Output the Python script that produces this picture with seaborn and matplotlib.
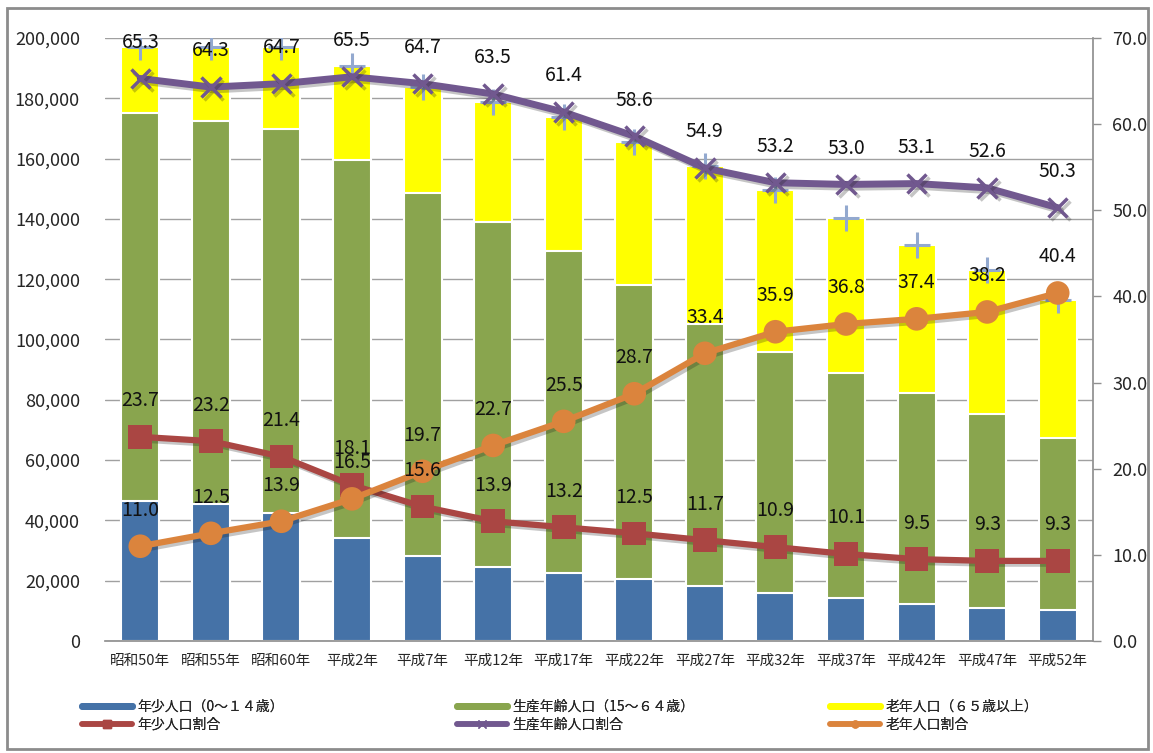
import numpy as np
import matplotlib
matplotlib.use("Agg")
import matplotlib.pyplot as plt
import matplotlib.patheffects as pe
from matplotlib.lines import Line2D
from matplotlib.patches import Rectangle
from matplotlib.ticker import FuncFormatter, MultipleLocator
import seaborn as sns

# data (population in persons, ratios in %)
years = ['昭和50年', '昭和55年', '昭和60年', '平成2年', '平成7年', '平成12年', '平成17年',
         '平成22年', '平成27年', '平成32年', '平成37年', '平成42年', '平成47年', '平成52年']
young = [46500, 45400, 42400, 34300, 28300, 24400, 22400, 20400, 18400, 15800, 14200, 12300, 10800, 10300]
working = [128600, 127200, 127300, 125200, 120300, 114700, 107000, 97700, 86700, 80100, 74700, 69800, 64500, 56900]
elderly = [21900, 24500, 27400, 31200, 35100, 39800, 44500, 47500, 52400, 53700, 51300, 49200, 47700, 45900]
young_ratio = [23.7, 23.2, 21.4, 18.1, 15.6, 13.9, 13.2, 12.5, 11.7, 10.9, 10.1, 9.5, 9.3, 9.3]
working_ratio = [65.3, 64.3, 64.7, 65.5, 64.7, 63.5, 61.4, 58.6, 54.9, 53.2, 53.0, 53.1, 52.6, 50.3]
elderly_ratio = [11.0, 12.5, 13.9, 16.5, 19.7, 22.7, 25.5, 28.7, 33.4, 35.9, 36.8, 37.4, 38.2, 40.4]

labels = ['年少人口（0～１４歳）', '生産年齢人口（15～６４歳）', '老年人口（６５歳以上）',
          '年少人口割合', '生産年齢人口割合', '老年人口割合']

c_blue, c_green, c_yellow = '#4572A7', '#89A54E', '#FFFF00'
c_red, c_purple, c_orange, c_plus = '#AA4643', '#71588F', '#DB843D', '#93A9CF'

sns.set_theme(style='white')
plt.rcParams['font.family'] = ['Noto Sans CJK JP', 'DejaVu Sans']

young = np.array(young)
mid = young + np.array(working)
total = mid + np.array(elderly)
pos = np.arange(len(years))

fig = plt.figure(figsize=(11.53, 7.53), dpi=100)
ax = fig.add_axes([105 / 1153, 112 / 753, 988 / 1153, 603 / 753])

# stacked bars drawn back to front
bar_kw = dict(width=0.54, edgecolor='white', linewidth=1.5, saturation=1, ax=ax, zorder=2)
sns.barplot(x=years, y=total, color=c_yellow, **bar_kw)
sns.barplot(x=years, y=mid, color=c_green, **bar_kw)
sns.barplot(x=years, y=young, color=c_blue, **bar_kw)

# total markers
ax.scatter(pos, total, marker='+', s=360, linewidths=2.2, color=c_plus, zorder=3)

ax.set_ylim(0, 200000)
ax.set_xlim(-0.5, len(years) - 0.5)
ax.yaxis.set_major_locator(MultipleLocator(20000))
ax.yaxis.set_major_formatter(FuncFormatter(lambda v, p: f'{int(v):,}'))
ax.grid(axis='y', color='#A0A0A0', linewidth=1, zorder=0)
ax.set_axisbelow(True)
ax.set_xlabel('')
ax.set_ylabel('')
ax.tick_params(axis='y', length=0, pad=18, labelsize=13)
ax.tick_params(axis='x', length=0, pad=9, labelsize=10.5)
for s in ['left', 'top', 'right']:
    ax.spines[s].set_visible(False)
ax.spines['bottom'].set_color('#909090')

ax2 = ax.twinx()
shadow = [pe.SimpleLineShadow(offset=(2, -2), alpha=0.25), pe.Normal()]
sns.lineplot(x=pos, y=young_ratio, ax=ax2, color=c_red, linewidth=4.5, marker='s',
             markersize=17, markeredgewidth=0, path_effects=shadow)
sns.lineplot(x=pos, y=working_ratio, ax=ax2, color=c_purple, linewidth=5, marker='x',
             markersize=14, markeredgewidth=2.5, markeredgecolor=c_purple, path_effects=shadow)
sns.lineplot(x=pos, y=elderly_ratio, ax=ax2, color=c_orange, linewidth=4.5, marker='o',
             markersize=17, markeredgewidth=0, path_effects=shadow)

for series in (young_ratio, working_ratio, elderly_ratio):
    for i, v in zip(pos, series):
        ax2.annotate(f'{v:.1f}', (i, v), xytext=(0, 26), textcoords='offset points',
                     ha='center', va='center', fontsize=14, color='#111111', zorder=10)

ax2.set_ylim(0, 70)
ax2.yaxis.set_major_locator(MultipleLocator(10))
ax2.yaxis.set_major_formatter(FuncFormatter(lambda v, p: f'{v:.1f}'))
ax2.tick_params(axis='y', length=6, width=1, color='#909090', pad=8, labelsize=13, right=True)
ax2.grid(False)
for s in ['left', 'top', 'bottom']:
    ax2.spines[s].set_visible(False)
ax2.spines['right'].set_color('#909090')
ax2.set_xlim(-0.5, len(years) - 0.5)

# legend in three columns
handles = [
    Line2D([], [], color=c_blue, lw=5),
    Line2D([], [], color=c_red, lw=4, marker='s', markersize=6),
    Line2D([], [], color=c_green, lw=5),
    Line2D([], [], color=c_purple, lw=4, marker='x', markersize=6, markeredgewidth=1),
    Line2D([], [], color=c_yellow, lw=5),
    Line2D([], [], color=c_orange, lw=4, marker='o', markersize=5),
]
names = [labels[0], labels[3], labels[1], labels[4], labels[2], labels[5]]
for k, x0 in enumerate([82, 457, 830]):
    leg = fig.legend(handles[2 * k:2 * k + 2], names[2 * k:2 * k + 2], loc='upper left',
                     bbox_to_anchor=(x0 / 1153, 53 / 753), frameon=False, fontsize=10,
                     handlelength=3.6, handletextpad=0.4, labelspacing=0.25, borderpad=0,
                     borderaxespad=0)
    fig.add_artist(leg)

# outer frame
fig.patches.append(Rectangle((7 / 1153, 4 / 753), 1141 / 1153, 741 / 753, transform=fig.transFigure,
                             fill=False, edgecolor='#8C8C8C', linewidth=2))

fig.savefig('out.png', dpi=100)
